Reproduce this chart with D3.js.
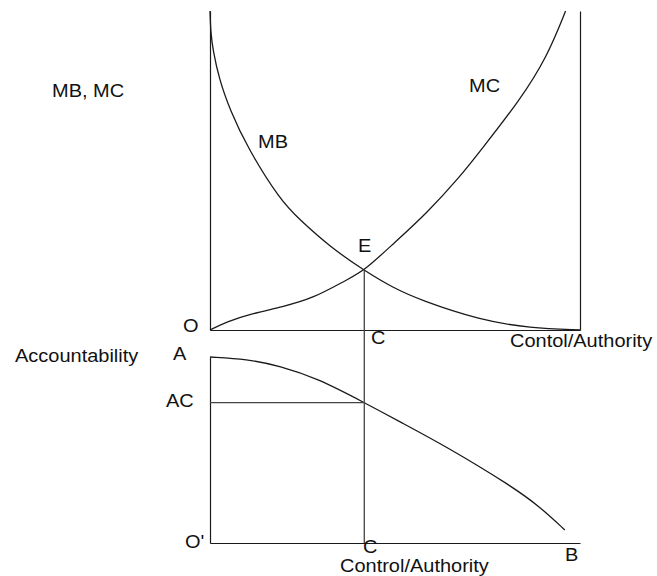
<!DOCTYPE html>
<html>
<head>
<meta charset="utf-8">
<script src="https://cdn.jsdelivr.net/npm/d3@7"></script>
<style>
  html, body { margin: 0; padding: 0; background: #fff; }
  svg text { font-family: "Liberation Sans", Arial, sans-serif; font-size: 18.5px; fill: #111; }
</style>
</head>
<body>
<svg id="chart" width="657" height="576"></svg>
<script>
// ---- data (x: control/authority 0..100, y: value 0..100) ----
const mbX = [0, 0.2, 0.8, 2.5, 5.4, 10, 18.9, 24.3, 32.4, 41.7, 49.5, 56.8, 73, 86.5, 100];
const mbY = [100, 93.1, 87.8, 78.5, 69, 57.4, 40.8, 34.5, 26.1, 18.6, 13.2, 9.4, 3.1, 0.6, 0];
const mcX = [0, 4.5, 10.8, 19.7, 27.8, 36.9, 41.7, 49.5, 58.6, 67.6, 73, 83.8, 91.1, 96.1];
const mcY = [0, 2.6, 5.0, 7.3, 9.9, 15.7, 18.6, 27.0, 36.6, 48.1, 56.1, 72.1, 85.6, 100];
const accX = [0, 10, 18.9, 28.9, 41.7, 51.4, 64.1, 81.9, 89.2, 95.9];
const accY = [100, 98.9, 95.2, 88.6, 75.5, 65.1, 51.6, 30.1, 19.4, 7];
const eqX = 41.7;      // C
const eqY = 18.6;      // E
const acY = 75.5;      // AC

const svg = d3.select("#chart");
const x = d3.scaleLinear().domain([0, 100]).range([210, 580]);
const yTop = d3.scaleLinear().domain([0, 100]).range([330, 11]);
const yBot = d3.scaleLinear().domain([0, 100]).range([543, 357]);

const stroke = "#1a1a1a";

// axes (no ticks)
svg.append("g").attr("transform", `translate(0,${yTop(0)})`)
  .call(d3.axisBottom(x).tickValues([]).tickSizeOuter(0));
svg.append("g").attr("transform", `translate(${x(0)},0)`)
  .call(d3.axisLeft(yTop).tickValues([]).tickSizeOuter(0));
svg.append("g").attr("transform", `translate(${x(100)},0)`)
  .call(d3.axisRight(yTop).tickValues([]).tickSizeOuter(0));
svg.append("g").attr("transform", `translate(0,${yBot(0)})`)
  .call(d3.axisBottom(x).tickValues([]).tickSizeOuter(0));
svg.append("g").attr("transform", `translate(${x(0)},0)`)
  .call(d3.axisLeft(yBot).tickValues([]).tickSizeOuter(0));
svg.selectAll(".domain").attr("stroke", stroke).attr("stroke-width", 1.2);

// curves (smoothed through the read points)
const curve = d3.curveBasis;
const lineTop = d3.line().x(d => x(d[0])).y(d => yTop(d[1])).curve(curve);
const lineBot = d3.line().x(d => x(d[0])).y(d => yBot(d[1])).curve(curve);

svg.append("path").datum(d3.zip(mbX, mbY)).attr("d", lineTop)
  .attr("fill", "none").attr("stroke", stroke).attr("stroke-width", 1.3);
svg.append("path").datum(d3.zip(mcX, mcY)).attr("d", lineTop)
  .attr("fill", "none").attr("stroke", stroke).attr("stroke-width", 1.3);
svg.append("path").datum(d3.zip(accX, accY)).attr("d", lineBot)
  .attr("fill", "none").attr("stroke", stroke).attr("stroke-width", 1.3);

// guide lines
svg.append("line")
  .attr("x1", x(eqX)).attr("x2", x(eqX))
  .attr("y1", yTop(eqY)).attr("y2", yBot(0))
  .attr("stroke", "#444").attr("stroke-width", 1.3);
svg.append("line")
  .attr("x1", x(0)).attr("x2", x(eqX))
  .attr("y1", yBot(acY)).attr("y2", yBot(acY))
  .attr("stroke", "#444").attr("stroke-width", 1.3);

// labels
const labels = [
  ["MB, MC", 52, 97],
  ["MB", 258, 148],
  ["MC", 469, 92],
  ["E", 358, 252],
  ["O", 183, 332],
  ["C", 371, 344],
  ["Contol/Authority", 510, 347],
  ["Accountability", 15, 362],
  ["A", 173, 360],
  ["AC", 166, 407],
  ["O'", 185, 548],
  ["C", 363, 553],
  ["B", 565, 561],
  ["Control/Authority", 340, 572]
];
svg.selectAll("text.lbl").data(labels).join("text")
  .attr("class", "lbl")
  .attr("transform", d => `translate(${d[1]},${d[2]}) scale(1.08,1)`)
  .text(d => d[0]);
</script>
</body>
</html>
